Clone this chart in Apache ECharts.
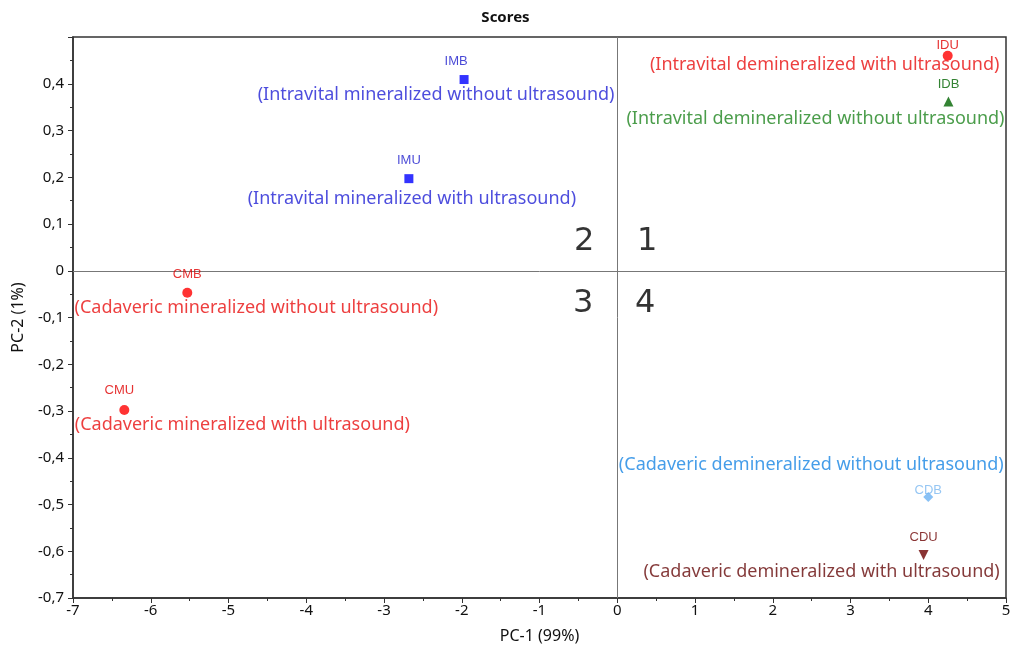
<!DOCTYPE html>
<html><head><meta charset="utf-8">
<script src="https://cdn.jsdelivr.net/npm/echarts@6/dist/echarts.min.js"></script>
<style>html,body{margin:0;padding:0;background:#fff}#c{width:1011px;height:647px}</style>
</head><body><div id="c"></div>
<script>
const codes = ['IMB','IMU','IDU','IDB','CMB','CMU','CDB','CDU'];
const descriptions = [
  '(Intravital mineralized without ultrasound)',
  '(Intravital mineralized with ultrasound)',
  '(Intravital demineralized with ultrasound)',
  '(Intravital demineralized without ultrasound)',
  '(Cadaveric mineralized without ultrasound)',
  '(Cadaveric mineralized with ultrasound)',
  '(Cadaveric demineralized without ultrasound)',
  '(Cadaveric demineralized with ultrasound)'
];
const pc1 = [-1.97, -2.68, 4.25, 4.26, -5.53, -6.34, 4.00, 3.94];
const pc2 = [0.409, 0.197, 0.460, 0.362, -0.047, -0.298, -0.484, -0.608];
const quadrants = ['1','2','3','4'];

// styles
const markerColor = ['#0000ff','#0000ff','#ff0000','#006400','#ff0000','#ff0000','#6cb2f2','#6b0000'];
const codeColor   = ['#1a1acc','#1a1acc','#e00000','#006400','#e00000','#e00000','#7ab8f0','#6b0000'];
const descColor   = ['#2020d4','#2020d4','#e80f0f','#1e851e','#e80f0f','#e80f0f','#1684e4','#650808'];
const symbols = ['rect','rect','circle','triangle','circle','circle','diamond','path://M0,0 L10,0 L5,9 Z'];
const symSizes = [9,9,10,10,10,10,10,10];
const codeOffset = [[-8,-18],[0,-18],[0,-10],[0,-17],[0,-18],[-5,-20],[0,-7],[0,-18]];
const descOffset = [[-28,15],[3,20],[-123,9],[-133,17],[69,15],[118,15],[-117,-32],[-102,17]];
const quadOffset = [[30,-29],[-33,-29],[-34,33],[28,33]];

const FONT = 'Noto Sans';
const series = codes.map((c,i)=>({
  type:'scatter', name:c,
  symbol: symbols[i], symbolSize: symSizes[i],
  itemStyle:{color: markerColor[i]},
  data:[[pc1[i], pc2[i]]],
  label:{show:true, position:'inside', offset: codeOffset[i], formatter: c,
    color: codeColor[i], fontFamily:'Liberation Sans', fontSize:13},
  z:5
}));
series.push({
  type:'scatter', symbolSize:0, silent:true, z:4,
  data: codes.map((c,i)=>({value:[pc1[i],pc2[i]],
    label:{show:true, position:'inside', offset: descOffset[i], formatter: descriptions[i],
      color: descColor[i], fontFamily: FONT, fontSize:18}})),
});
series.push({
  type:'scatter', symbolSize:0, silent:true, z:3,
  data: quadrants.map((q,i)=>({value:[0,0],
    label:{show:true, position:'inside', offset: quadOffset[i], formatter:q,
      color:'#000', fontFamily:'DejaVu Sans', fontSize:32}})),
  markLine:{silent:true, symbol:'none', animation:false,
    lineStyle:{color:'#777', width:1, type:'solid'}, label:{show:false},
    data:[{xAxis:0},{yAxis:0}]}
});

const chart = echarts.init(document.getElementById('c'));
chart.setOption({
  animation:false,
  title:{text:'Scores', left:'center', top:5, textStyle:{fontFamily:FONT, fontSize:15, fontWeight:'bold', color:'#111'}},
  grid:{left:73, right:5, top:37, bottom:49, outerBoundsMode:'none', containLabel:false,
    show:true, borderColor:'#333', borderWidth:1.5, backgroundColor:'transparent'},
  xAxis:{type:'value', min:-7, max:5, interval:1,
    name:'PC-1 (99%)', nameLocation:'middle', nameGap:30,
    nameTextStyle:{fontFamily:FONT, fontSize:16, color:'#111'},
    axisLine:{show:true, onZero:false, lineStyle:{color:'#333', width:1.5}},
    axisTick:{show:true, length:5, lineStyle:{color:'#333'}},
    minorTick:{show:true, splitNumber:2, length:3, lineStyle:{color:'#333'}},
    splitLine:{show:false},
    axisLabel:{fontFamily:FONT, fontSize:15, color:'#111', margin:5, formatter:v=>String(v)}},
  yAxis:{type:'value', min:-0.7, max:0.5, interval:0.1,
    name:'PC-2 (1%)', nameLocation:'middle', nameGap:47, nameRotate:90,
    nameTextStyle:{fontFamily:FONT, fontSize:16, color:'#111'},
    axisLine:{show:true, onZero:false, lineStyle:{color:'#333', width:1.5}},
    axisTick:{show:true, length:5, lineStyle:{color:'#333'}},
    minorTick:{show:true, splitNumber:2, length:3, lineStyle:{color:'#333'}},
    splitLine:{show:false},
    axisLabel:{fontFamily:FONT, fontSize:15, color:'#111', margin:9,
      formatter:v=>{ if (v>0.45) return ''; if (Math.abs(v)<1e-9) return '0'; return v.toFixed(1).replace('.',','); }}},
  series
});
</script></body></html>
